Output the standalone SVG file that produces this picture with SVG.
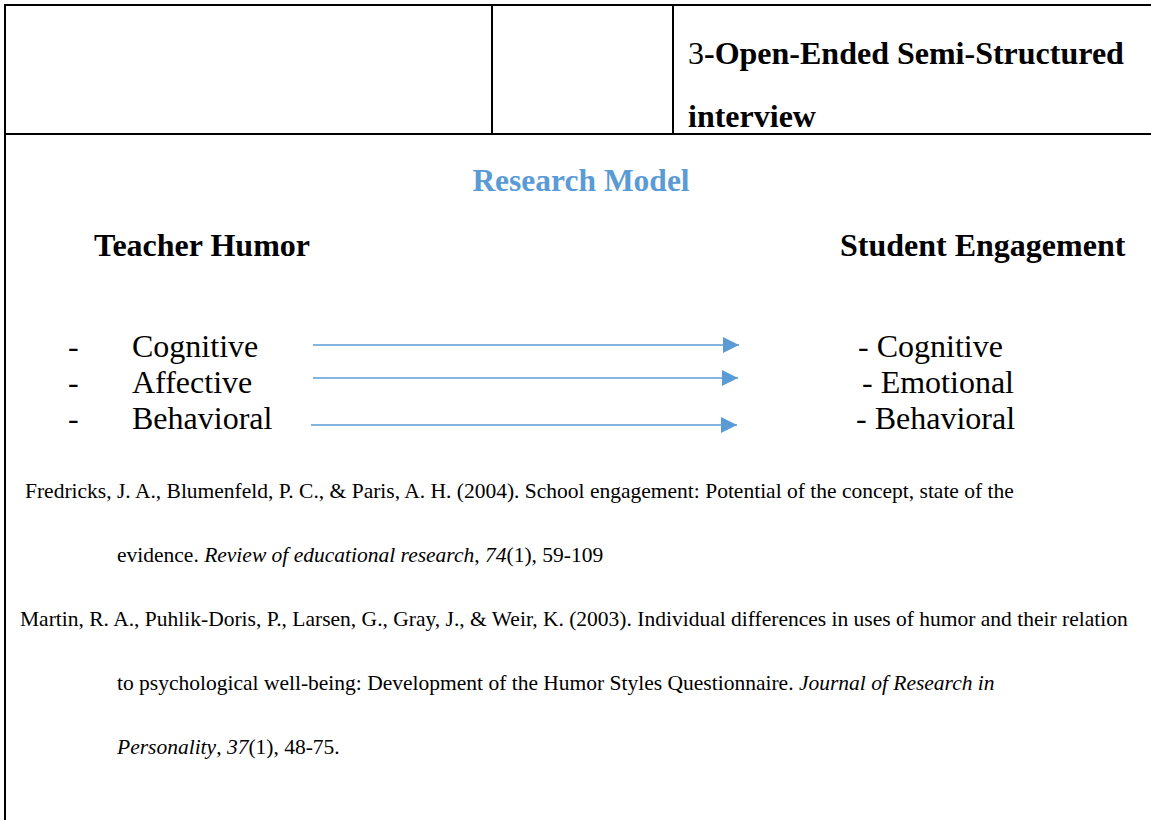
<svg xmlns="http://www.w3.org/2000/svg" width="1151" height="820" viewBox="0 0 1151 820">
  <style>
    .rule { stroke: #000; stroke-width: 2; fill: none; }
    .serif { font-family: "Liberation Serif", "Times New Roman", serif; fill: #000; }
    .head { font-size: 32px; font-weight: bold; }
    .title { font-size: 31.5px; font-weight: bold; fill: #5b9bd5; }
    .side { font-size: 32px; font-weight: bold; }
    .item { font-size: 32px; }
    .ref { font-size: 21.5px; }
    .arrow { stroke: #5b9bd5; stroke-width: 1.3; fill: none; marker-end: url(#head); }
  </style>
  <defs>
    <marker id="head" markerUnits="userSpaceOnUse" markerWidth="17" markerHeight="16" refX="16" refY="8" orient="auto">
      <path d="M0,0 L16,8 L0,16 Z" fill="#5b9bd5"/>
    </marker>
  </defs>

  <!-- table frame -->
  <g id="table">
    <line class="rule" x1="5" y1="5" x2="1151" y2="5"/>
    <line class="rule" x1="5" y1="4" x2="5" y2="820"/>
    <line class="rule" x1="492" y1="5" x2="492" y2="134"/>
    <line class="rule" x1="673" y1="5" x2="673" y2="134"/>
    <line class="rule" x1="5" y1="134" x2="1151" y2="134"/>
  </g>

  <g id="interview-cell">
    <text class="serif head" x="688" y="64"><tspan font-weight="normal">3</tspan>-Open-Ended Semi-Structured</text>
    <text class="serif head" x="688" y="127">interview</text>
  </g>

  <g id="model-title">
    <text class="serif title" x="581" y="191" text-anchor="middle">Research Model</text>
  </g>

  <g id="teacher-humor">
    <text class="serif side" x="94" y="256">Teacher Humor</text>
    <text class="serif item" x="68" y="357">-</text>
    <text class="serif item" x="132" y="357">Cognitive</text>
    <text class="serif item" x="68" y="393">-</text>
    <text class="serif item" x="132" y="393">Affective</text>
    <text class="serif item" x="68" y="429">-</text>
    <text class="serif item" x="132" y="429">Behavioral</text>
  </g>

  <g id="student-engagement">
    <text class="serif side" x="840" y="256">Student Engagement</text>
    <text class="serif item" x="858" y="357">- Cognitive</text>
    <text class="serif item" x="862" y="393">- Emotional</text>
    <text class="serif item" x="856" y="429">- Behavioral</text>
  </g>

  <g id="connectors">
    <line class="arrow" x1="313" y1="345" x2="739" y2="345"/>
    <line class="arrow" x1="313" y1="378" x2="738" y2="378"/>
    <line class="arrow" x1="311" y1="425" x2="737" y2="425"/>
  </g>

  <g id="references">
    <text class="serif ref" x="25" y="498">Fredricks, J. A., Blumenfeld, P. C., &amp; Paris, A. H. (2004). School engagement: Potential of the concept, state of the</text>
    <text class="serif ref" x="117" y="562">evidence. <tspan font-style="italic">Review of educational research</tspan>, <tspan font-style="italic">74</tspan>(1), 59-109</text>
    <text class="serif ref" x="20" y="626">Martin, R. A., Puhlik-Doris, P., Larsen, G., Gray, J., &amp; Weir, K. (2003). Individual differences in uses of humor and their relation</text>
    <text class="serif ref" x="117" y="690">to psychological well-being: Development of the Humor Styles Questionnaire. <tspan font-style="italic">Journal of Research in</tspan></text>
    <text class="serif ref" x="117" y="754"><tspan font-style="italic">Personality</tspan>, <tspan font-style="italic">37</tspan>(1), 48-75.</text>
  </g>
</svg>
